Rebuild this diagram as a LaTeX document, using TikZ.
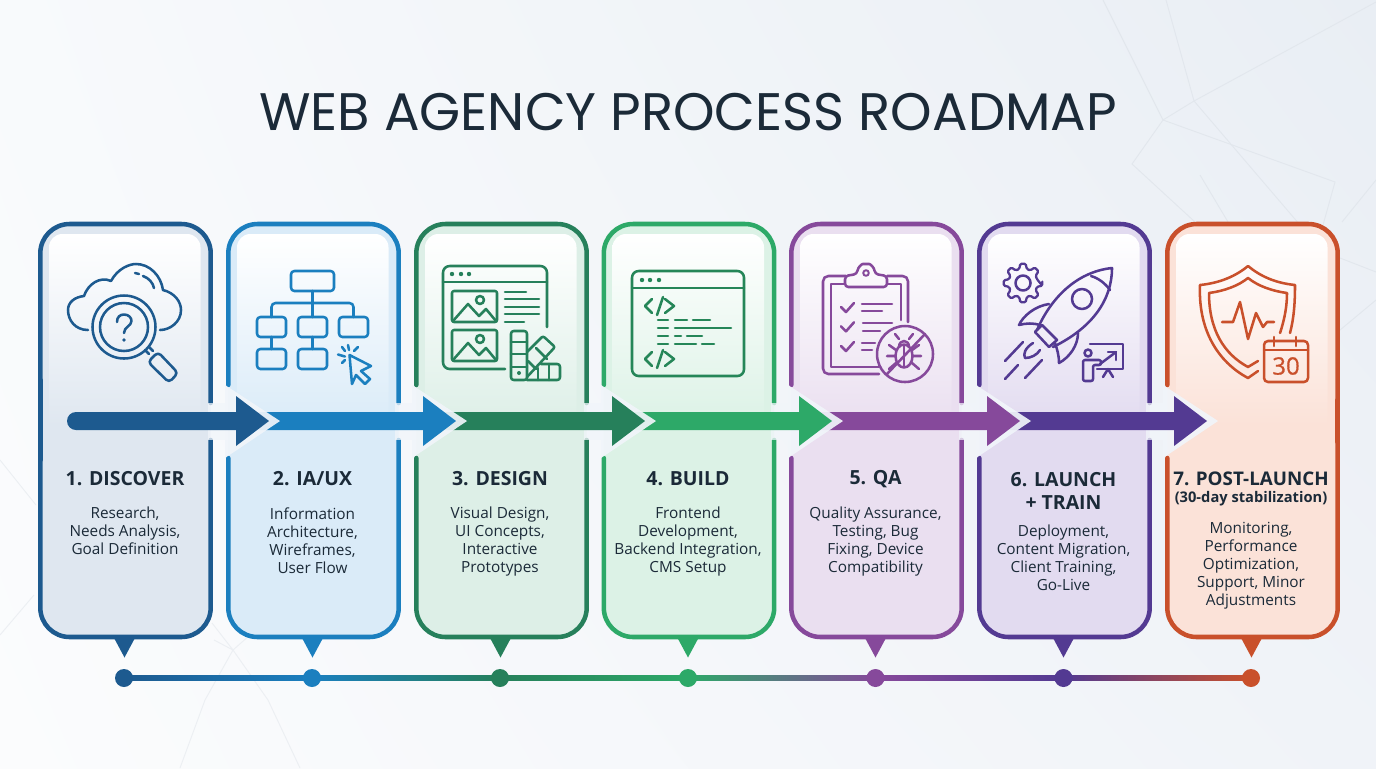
\documentclass[tikz,border=0pt]{standalone}
\usepackage{fontspec}
\setmainfont{Open Sans}
\newfontfamily\titlefont{Poppins}
\newfontfamily\calfont[FakeBold=0.6]{Open Sans}
\usetikzlibrary{calc,shadings}
\definecolor{c1}{HTML}{1D5A8F}\definecolor{t1}{HTML}{DFE7F0}
\definecolor{c2}{HTML}{1B7FBF}\definecolor{t2}{HTML}{DAEBF8}
\definecolor{c3}{HTML}{26805B}\definecolor{t3}{HTML}{DDEFE7}
\definecolor{c4}{HTML}{2DA968}\definecolor{t4}{HTML}{DCF2E6}
\definecolor{c5}{HTML}{86499B}\definecolor{t5}{HTML}{EADFF0}
\definecolor{c6}{HTML}{533A92}\definecolor{t6}{HTML}{E2DBF0}
\definecolor{c7}{HTML}{C9502B}\definecolor{t7}{HTML}{FBE2D8}
\definecolor{ink}{HTML}{1B2A38}
\definecolor{faint}{HTML}{E2E7ED}
\definecolor{fainter}{HTML}{ECEFF3}
\definecolor{halo}{HTML}{F1F5FA}
\definecolor{bgul}{HTML}{F8FAFC}
\definecolor{bgur}{HTML}{E9EEF4}
\definecolor{bgll}{HTML}{FBFCFD}
\definecolor{bglr}{HTML}{F0F3F8}
\tikzset{
  ic/.style={line width=1.9pt,line cap=round,line join=round},
  faintline/.style={draw=faint,line width=0.7pt},
  softline/.style={draw=fainter,line width=0.7pt},
  cardline/.style={line width=3.4pt,line cap=round},
  headtext/.style={inner sep=0pt,text=ink,align=center,font=\bfseries\fontsize{14.6}{17.2}\selectfont},
  subtext/.style={inner sep=0pt,text=ink,align=center,font=\bfseries\fontsize{11}{13}\selectfont},
  bodytext/.style={inner sep=0pt,text=ink,align=center,font=\fontsize{11.5}{13.5}\selectfont},
  dot/.style={circle,inner sep=0pt,minimum size=13.5pt}
}
\begin{document}
\begin{tikzpicture}[x=0.75pt,y=-0.75pt]
\useasboundingbox (0,0) rectangle (1376,768);
\shade[upper left=bgul,upper right=bgur,lower left=bgll,lower right=bglr] (0,0) rectangle (1376,768);
% faint background lines
\begin{scope}
\draw[faintline] (1103,0) -- (1163,120) -- (1335,182) -- (1323,225);
\draw[faintline] (1166,0) -- (1194,101) -- (1300,225);
\draw[faintline] (1376,2) -- (1194,101) -- (1163,120) -- (1132,164) -- (1195,222);
\draw[faintline] (1200,175) -- (1228,222);
\draw[faintline] (1376,180) -- (1342,222);
\draw[faintline] (1340,258) -- (1376,272);
\draw[faintline] (1340,330) -- (1376,300);
\draw[softline] (212,623) -- (233,650) -- (205,700) -- (180,768);
\draw[softline] (233,650) -- (268,700) -- (300,768);
\draw[softline] (214,640) -- (233,650) -- (250,635);
\draw[softline] (0,635) -- (34,595);
\draw[softline] (0,460) -- (36,505);
\end{scope}
\node[inner sep=0pt,text=ink,font=\titlefont\fontsize{39.6}{42}\selectfont] (title) at (688,112) {WEB AGENCY PROCESS ROADMAP};
% cards
\foreach \i/\L in {1/38,2/226,3/414,4/601.5,5/789,6/977,7/1165}{
  \pgfmathsetmacro{\xa}{\L+2.3}
  \pgfmathsetmacro{\xb}{\L+172.7}
  \pgfmathsetmacro{\pa}{\L+11}
  \pgfmathsetmacro{\pb}{\L+162.5}
  \pgfmathsetmacro{\tc}{\L+86.5}
  \fill[t\i,rounded corners=22pt] (\xa,224) rectangle (\xb,637);
  \path[top color=white,middle color=t\i!38!white,bottom color=t\i] (\pa,425) [rounded corners=10pt] -- (\pa,234) -- (\pb,234) [sharp corners] -- (\pb,425) -- cycle;
  \draw[c\i,cardline,rounded corners=22pt] (\xa,385) -- (\xa,224) -- (\xb,224) -- (\xb,403);
  \draw[c\i,cardline,rounded corners=22pt] (\xb,440) -- (\xb,637) -- (\xa,637) -- (\xa,458);
  \fill[c\i] (\tc-11,637) -- (\tc+11,637) -- (\tc,657.5) -- cycle;
}
\draw[c1,cardline] (40.3,380) -- (40.3,460);
\draw[c7,cardline] (1337.7,400) -- (1337.7,442);
% arrows, drawn from last to first so that each head overlaps the next shaft
\foreach \i/\B/\S in {6/1174/987,5/987/799,4/799/612,3/612/423,2/423/236,1/236/76}{
  \pgfmathsetmacro{\T}{\B+33}
  \pgfmathsetmacro{\H}{\B-11}
  \pgfmathsetmacro{\R}{\B-28}
  \pgfmathsetmacro{\A}{\B+44}
  \fill[halo,opacity=.92] (\H,385) -- (\A,421) -- (\H,458) -- cycle;
  \fill[halo,opacity=.75] (\R,403) rectangle (\H,440);
  \fill[c\i] (\S,412) -- (\B,412) -- (\B,396) -- (\T,421) -- (\B,446) -- (\B,430) -- (\S,430) -- cycle;
}
\fill[c1] (76,421) circle (9);
% timeline
\foreach \i/\x in {1/124,2/312,3/500,4/688,5/875.5,6/1063.5,7/1251}{
  \node[dot] (d\i) at (\x,678) {};
}
\foreach \i/\j in {1/2,2/3,3/4,4/5,5/6,6/7}{
  \path[left color=c\i,right color=c\j] ([yshift=-1.9pt]d\i.center) rectangle ([yshift=1.9pt]d\j.center);
}
\foreach \i in {1,...,7}{ \fill[c\i] (d\i) circle (9); }
% text
\node[headtext] (h1) at (125,479) {1. DISCOVER};
\node[headtext] (h2) at (312.5,479) {2. IA/UX};
\node[headtext] (h3) at (500,479) {3. DESIGN};
\node[headtext] (h4) at (688,479) {4. BUILD};
\node[headtext] (h5) at (875.5,479) {5. QA};
\node[headtext,anchor=north] (h6) at (1063.5,472) {6. LAUNCH\\+ TRAIN};
\node[headtext,font=\bfseries\fontsize{14.1}{17}\selectfont] (h7) at (1251,479) {7. POST-LAUNCH};
\node[subtext] (s7) at (1251,499) {(30-day stabilization)};
\node[bodytext,anchor=north] (b1) at (125,507) {Research,\\Needs Analysis,\\Goal Definition};
\node[bodytext,anchor=north] (b2) at (312.5,507) {Information\\Architecture,\\Wireframes,\\User Flow};
\node[bodytext,anchor=north] (b3) at (500,507) {Visual Design,\\UI Concepts,\\Interactive\\Prototypes};
\node[bodytext,anchor=north] (b4) at (688,507) {Frontend\\Development,\\Backend Integration,\\CMS Setup};
\node[bodytext,anchor=north] (b5) at (875.5,507) {Quality Assurance,\\Testing, Bug\\Fixing, Device\\Compatibility};
\node[bodytext,anchor=north] (b6) at (1063.5,525) {Deployment,\\Content Migration,\\Client Training,\\Go-Live};
\node[bodytext,anchor=north] (b7) at (1251,522) {Monitoring,\\Performance\\Optimization,\\Support, Minor\\Adjustments};
% ---- icon 1
\begin{scope}[ic,c1]
\draw (88,330) .. controls (75,330) and (68,320) .. (68,310) .. controls (68,302) and (75,297) .. (84,296) .. controls (88,284) and (100,276) .. (111,281) .. controls (118,268) and (130,264) .. (136,264) .. controls (150,264) and (161,276) .. (163,290) .. controls (175,293) and (181,302) .. (181,310) .. controls (181,322) and (170,330) .. (160,330);
\draw (135,273) -- (139,274);
\draw (143,276) .. controls (149,278) and (153,283) .. (154,288);
\draw (124,327) circle (31.5);
\draw (124,327) circle (24);
\draw (117,322) .. controls (117,317) and (120,314.5) .. (124,314.5) .. controls (129,314.5) and (131.5,318) .. (131.5,321) .. controls (131.5,326) and (124,327) .. (124,333);
\fill (124,340) circle (1.9);
\draw (145,350) -- (149,354);
\draw (149,347) -- (153,351);
\draw[rounded corners=3pt] (148,362) -- (158,352) -- (178,373) -- (169,382.5) -- cycle;
\end{scope}
% ---- icon 2
\begin{scope}[ic,c2]
\draw[rounded corners=2.5pt] (291,271) rectangle (334,291);
\foreach \x in {257,298,339}{\draw[rounded corners=2.5pt] (\x,317) rectangle ++(29,20);}
\foreach \x in {257,298}{\draw[rounded corners=2.5pt] (\x,349) rectangle ++(29,20);}
\draw (312.5,291) -- (312.5,317);
\draw[rounded corners=3pt] (271.5,317) -- (271.5,303) -- (353.5,303) -- (353.5,317);
\draw (271.5,337) -- (271.5,349);
\draw (312.5,337) -- (312.5,349);
\draw (349.5,355) -- (371,366) -- (361,371) -- (370,379) -- (365,384) -- (356,375) -- (352,384) -- cycle;
\draw (348,345) -- (349,350);
\draw (338,354.5) -- (345,356.5);
\draw (342,363) -- (345,360);
\draw (342,347) -- (345,351);
\draw (358,347) -- (354,351);
\end{scope}
% ---- icon 3
\begin{scope}[ic,c3]
\draw[rounded corners=5pt] (505,369) -- (443,369) -- (443,266) -- (547,266) -- (547,327);
\draw (443,282) -- (547,282);
\foreach \x in {452,461,469}{\fill (\x,274) circle (2.2);}
\foreach \d in {0,39}{
  \begin{scope}[yshift=-\d*0.75pt]
  \draw[rounded corners=1.5pt] (452,291) rectangle (497,322);
  \draw (453,321) -- (468,304) -- (479,316) -- (486,309) -- (496,321);
  \draw (480,300) circle (4);
  \end{scope}
}
\draw (505,292) -- (526,292);
\draw (505,299) -- (539,299);
\draw (505,307) -- (539,307);
\draw (505,314) -- (539,314);
\draw (505,322) -- (524,322);
\draw[rounded corners=2pt] (511,331) rectangle (527,380);
\draw (511,342) -- (527,342);
\draw (511,354) -- (527,354);
\draw (511,367) -- (527,367);
\fill (519,373) circle (2);
\draw[rounded corners=1.5pt] (527,352) -- (543,336) -- (555,347) -- (527,377);
\draw (536,348) -- (547,359);
\draw (528,361) -- (536,369);
\draw[rounded corners=2pt] (527,380) -- (560,380) -- (560,364) -- (541,364);
\draw (538,368) -- (538,380);
\draw (549,364) -- (549,380);
\end{scope}
% ---- icon 4
\begin{scope}[ic,c3!50!c4!90!black]
\draw[rounded corners=5pt] (632,271) rectangle (744,376);
\draw (632,288) -- (744,288);
\foreach \x in {642,650,659}{\fill (\x,280) circle (2.2);}
\foreach \d in {0,53}{
  \begin{scope}[yshift=-\d*0.75pt]
  \draw (652,299) -- (645,306) -- (652,313);
  \draw (663,297) -- (657,315);
  \draw (665,299) -- (674,306) -- (665,313);
  \end{scope}
}
\draw (658,320) -- (668,320) (675,320) -- (687,320) (693,320) -- (710,320);
\draw (658,328) -- (668,328) (675,328) -- (731,328);
\draw (658,336) -- (668,336) (675,336) -- (681,336) (687,336) -- (702,336);
\draw (658,344) -- (668,344) (675,344) -- (696,344) (702,344) -- (714,344);
\end{scope}
% ---- icon 5
\begin{scope}[ic,c5]
\draw[rounded corners=4pt] (879,374) -- (823,374) -- (823,276) -- (846,276);
\draw[rounded corners=4pt] (887,276) -- (908,276) -- (908,322);
\draw (879,367) -- (831,367) -- (831,284) -- (845,284);
\draw (887,284) -- (901,284) -- (901,320);
\draw[rounded corners=2.5pt] (845,287) -- (845,276) -- (857,274) .. controls (858,267) and (862,264) .. (866,264) .. controls (870,264) and (874,267) .. (875,274) -- (887,276) -- (887,287) -- cycle;
\draw[line width=1.5pt] (866,273) circle (2.8);
\foreach \d in {0,19.3,39}{
  \draw (841,307+\d) -- (846,312+\d) -- (854,303+\d);
}
\draw (862,304) -- (892,304) (862,311) -- (882,311) (863,323) -- (892,323) (863,331) -- (880,331) (862,343) -- (875,343) (862,350) -- (872,350);
\draw (905,354) circle (28);
\draw (887,374) -- (925,334);
\draw (904,356) ellipse (8.5 and 11.5);
\draw (899,347) .. controls (899,339) and (909,339) .. (909,347);
\draw (904,345) -- (904,367);
\draw (899,339) -- (895,334) (909,339) -- (913,334);
\draw (896,350) -- (889,345) (895,356) -- (887,356) (896,363) -- (889,369);
\draw (912,350) -- (919,345) (913,356) -- (921,356) (912,363) -- (919,369);
\end{scope}
% ---- icon 6
\begin{scope}[ic,c6]
\begin{scope}[shift={(1023,283)}]
\draw[line width=1.7pt,rounded corners=1pt] (8:19.5) \foreach \a in {0,45,...,315}{ -- (\a-8:19.5) -- (\a+8:19.5) -- (\a+15:14.5) -- (\a+30:14.5)} -- cycle;
\draw (0,0) circle (7.5);
\end{scope}
\draw (1037,330) .. controls (1050,300) and (1075,272) .. (1112,268) .. controls (1112,300) and (1092,328) .. (1053,347);
\draw (1091,276) .. controls (1098,278) and (1105,283) .. (1110,290);
\draw (1082,299) circle (10);
\draw (1035,332) -- (1042,325) -- (1057,340) -- (1049,347) -- cycle;
\draw (1049,304) .. controls (1035,306) and (1023,316) .. (1019,325) .. controls (1026,323) and (1034,323) .. (1040,325);
\draw (1078,333) .. controls (1078,345) and (1070,357) .. (1059,363) .. controls (1059,355) and (1057,349) .. (1055,343);
\draw (1033,343) .. controls (1025,348) and (1023,354) .. (1025,358) .. controls (1031,358) and (1037,355) .. (1040,350);
\draw (1023,342) -- (1005,361);
\draw (1018,365) -- (1005,379);
\draw (1042,360) -- (1025,378);
\draw (1088,353) circle (3.5);
\draw[rounded corners=1.5pt] (1083,373) -- (1083,360) -- (1101,360) -- (1101,365) -- (1093,365) -- (1093,381) -- (1083,381) -- cycle;
\draw (1090,344) -- (1123,344) -- (1123,369) -- (1097,369);
\draw (1108,369) -- (1103,377) (1108,369) -- (1113,377);
\draw (1100,364) -- (1116,352);
\draw (1108,352) -- (1116,352) -- (1116,360);
\end{scope}
% ---- icon 7
\begin{scope}[ic,c7]
\draw (1280,333) .. controls (1285,318) and (1287,305) .. (1287,293) .. controls (1272,291) and (1258,286) .. (1248,278) .. controls (1238,286) and (1224,291) .. (1209,293) .. controls (1209,330) and (1224,354) .. (1248,367) -- (1258,361);
\draw (1290,333) .. controls (1294,318) and (1295,302) .. (1295,285) .. controls (1275,283) and (1260,276) .. (1248,266) .. controls (1236,276) and (1220,283) .. (1200,285) .. controls (1198,330) and (1218,362) .. (1248,378) -- (1258,371);
\draw (1222,322) -- (1233,322) -- (1240,302) -- (1248,339) -- (1256,313) -- (1263,327) -- (1267,322) -- (1274,322);
\draw[rounded corners=3pt] (1264,341) rectangle (1308,382);
\draw (1264,350) -- (1308,350);
\draw (1274,337) -- (1274,346);
\draw (1296,337) -- (1296,346);
\node[inner sep=0pt,text=c7,font=\calfont\fontsize{18}{18}\selectfont] (cal) at (1286,366) {30};
\end{scope}
\end{tikzpicture}
\end{document}
